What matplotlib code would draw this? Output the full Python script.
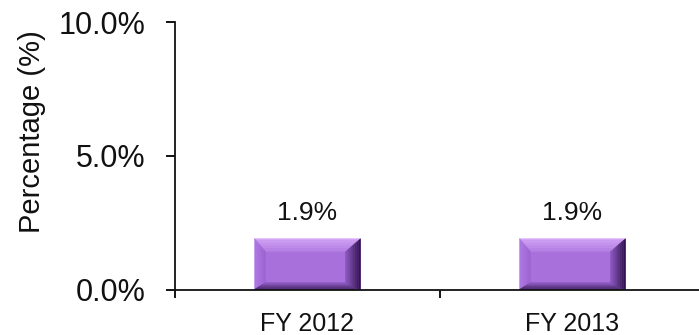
import matplotlib
matplotlib.use("Agg")
import matplotlib.pyplot as plt
from matplotlib.patches import Polygon
import numpy as np

plt.rcParams["font.family"] = ["Liberation Sans", "DejaVu Sans"]

# Data
categories = ["FY 2012", "FY 2013"]
values = [1.9, 1.9]
value_labels = ["1.9%", "1.9%"]
y_ticks = [0.0, 5.0, 10.0]
y_tick_labels = ["0.0%", "5.0%", "10.0%"]

W, H = 699, 335
fig = plt.figure(figsize=(W / 100, H / 100), dpi=100)
ax = fig.add_axes([175 / W, 1 - 289.5 / H, 530 / W, 267.5 / H])

x = np.arange(len(categories))
face = "#A870DB"
bars = ax.bar(x, values, width=0.40, color=face, edgecolor="none", zorder=2)

ax.set_xlim(-0.5, len(categories) - 0.5)
ax.set_ylim(0, 10)

# Bevelled look for each bar: four trapezoid sides shaded in strips
def mix(c1, c2, t):
    a = np.array(matplotlib.colors.to_rgb(c1))
    b = np.array(matplotlib.colors.to_rgb(c2))
    return tuple(a + (b - a) * t)

px_x = (ax.get_xlim()[1] - ax.get_xlim()[0]) / 530.0
px_y = (ax.get_ylim()[1] - ax.get_ylim()[0]) / 267.5
bev = dict(left=11 * px_x, right=15 * px_x, top=13 * px_y, bottom=7 * px_y)
shades = dict(
    top=("#D4A6F7", "#B27DE2"),
    left=("#B07AE4", "#9C64D2"),
    right=("#2E1048", "#8C58C0"),
    bottom=("#42215F", "#905DC7"),
)
nstrip = 8
for b in bars:
    x0, y0 = b.get_x(), b.get_y()
    x1, y1 = x0 + b.get_width(), y0 + b.get_height()
    ix0, ix1 = x0 + bev["left"], x1 - bev["right"]
    iy0, iy1 = y0 + bev["bottom"], y1 - bev["top"]
    outer = dict(top=[(x0, y1), (x1, y1)], bottom=[(x1, y0), (x0, y0)],
                 left=[(x0, y0), (x0, y1)], right=[(x1, y1), (x1, y0)])
    inner = dict(top=[(ix0, iy1), (ix1, iy1)], bottom=[(ix1, iy0), (ix0, iy0)],
                 left=[(ix0, iy0), (ix0, iy1)], right=[(ix1, iy1), (ix1, iy0)])
    for side in ["top", "left", "bottom", "right"]:
        o = np.array(outer[side]); i = np.array(inner[side])
        for k in range(nstrip):
            t0, t1 = k / nstrip, (k + 1) / nstrip
            a0 = o + (i - o) * t0
            a1 = o + (i - o) * t1
            poly = [tuple(a0[0]), tuple(a0[1]), tuple(a1[1]), tuple(a1[0])]
            c = mix(shades[side][0], shades[side][1], (t0 + t1) / 2)
            ax.add_patch(Polygon(poly, closed=True, facecolor=c,
                                 edgecolor=c, linewidth=0.3, zorder=3))

# Value labels above the bars
for xi, v, lab in zip(x, values, value_labels):
    ax.annotate(lab, (xi, v), xytext=(0, 10), textcoords="offset points",
                ha="center", va="bottom", fontsize=19, color="#111111")

# Axes styling
for s in ["top", "right"]:
    ax.spines[s].set_visible(False)
for s in ["left", "bottom"]:
    ax.spines[s].set_linewidth(1.3)
    ax.spines[s].set_color("#111111")
    ax.spines[s].set_zorder(4)

ax.set_yticks(y_ticks)
ax.set_yticklabels(y_tick_labels, fontsize=22, color="#111111")
ax.tick_params(axis="y", direction="out", length=6.5, width=1.3, pad=15)

ax.set_xticks(x)
ax.set_xticklabels(categories, fontsize=18, color="#111111")
ax.tick_params(axis="x", which="major", length=0, pad=16)
ax.set_xticks(np.arange(len(categories) + 1) - 0.5, minor=True)
ax.tick_params(axis="x", which="minor", direction="out", length=6, width=1.3)

fig.text(32 / W, 1 - 132 / H, "Percentage (%)", rotation=90, ha="center",
         va="center", fontsize=21, color="#111111")

fig.savefig("out.png", dpi=100)
